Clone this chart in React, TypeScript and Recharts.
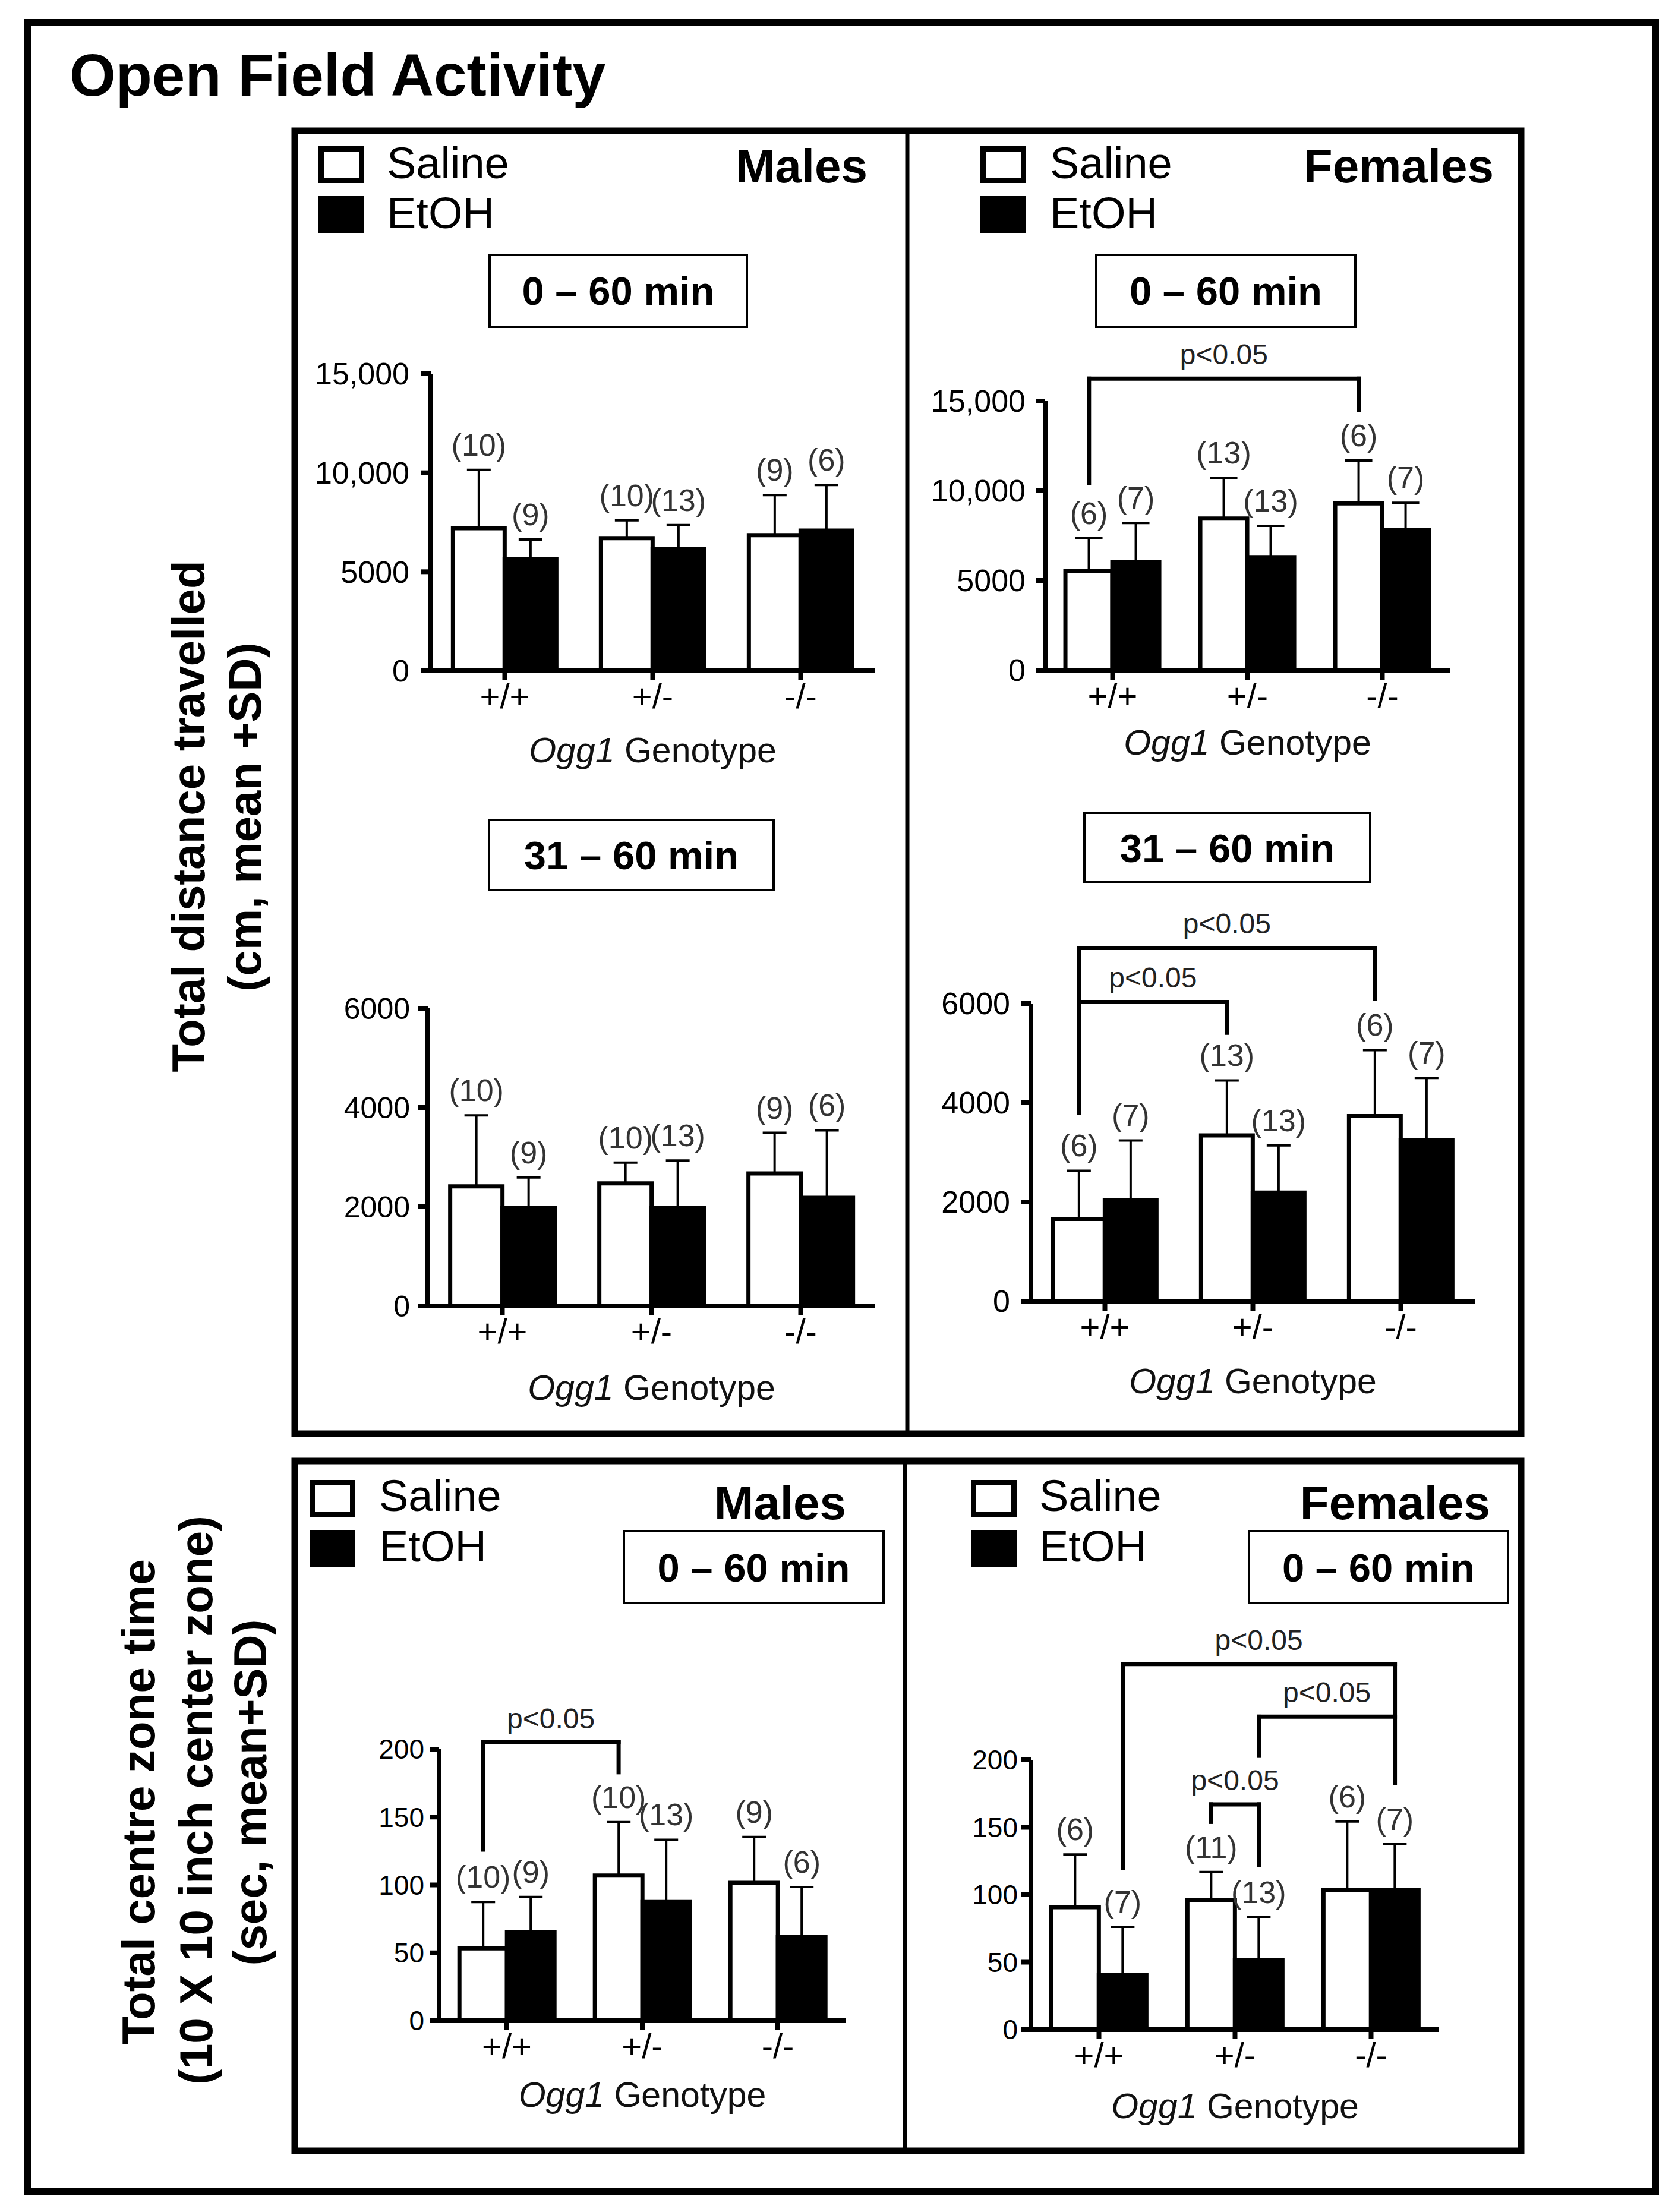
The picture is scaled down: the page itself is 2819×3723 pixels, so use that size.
import React from 'react'
import { BarChart, Bar, XAxis, YAxis, ErrorBar, ReferenceLine, LabelList } from 'recharts'

const FONT = '"Liberation Sans", Arial, Helvetica, sans-serif'

const genotypes = ['+/+', '+/-', '-/-']

// Males, total distance 0-60 min (cm)
const mDist060Saline = [7200, 6700, 6850]
const mDist060SalineSD = [2950, 900, 2020]
const mDist060Etoh = [5640, 6150, 7080]
const mDist060EtohSD = [990, 1210, 2300]

// Females, total distance 0-60 min (cm)
const fDist060Saline = [5550, 8450, 9300]
const fDist060SalineSD = [1810, 2270, 2390]
const fDist060Etoh = [6020, 6300, 7810]
const fDist060EtohSD = [2180, 1750, 1520]

// Males, total distance 31-60 min (cm)
const mDist3160Saline = [2410, 2470, 2670]
const mDist3160SalineSD = [1430, 420, 820]
const mDist3160Etoh = [1980, 1980, 2180]
const mDist3160EtohSD = [610, 950, 1360]

// Females, total distance 31-60 min (cm)
const fDist3160Saline = [1660, 3340, 3730]
const fDist3160SalineSD = [970, 1110, 1330]
const fDist3160Etoh = [2040, 2190, 3240]
const fDist3160EtohSD = [1200, 950, 1260]

// Males, centre zone time 0-60 min (sec)
const mCentreSaline = [53.3, 106.9, 101.5]
const mCentreSalineSD = [34.1, 39.4, 33.8]
const mCentreEtoh = [65.3, 87.4, 61.7]
const mCentreEtohSD = [25.8, 45.9, 36.8]

// Females, centre zone time 0-60 min (sec)
const fCentreSaline = [90.7, 96.0, 103.3]
const fCentreSalineSD = [39.2, 20.8, 51.0]
const fCentreEtoh = [40.4, 51.5, 103.3]
const fCentreEtohSD = [35.8, 31.9, 34.1]

// group sizes
const maleNSaline = [10, 10, 9]
const maleNEtoh = [9, 13, 6]
const femaleNSaline = [6, 13, 6]
const femaleNEtoh = [7, 13, 7]
const femaleCentreNSaline = [6, 11, 6]

const distTicks = [0, 5000, 10000, 15000]
const dist3160Ticks = [0, 2000, 4000, 6000]
const centreTicks = [0, 50, 100, 150, 200]

type Series = 'saline' | 'etoh'
type Bracket = { from: [number, Series]; to: [number, Series]; top: number; fromBottom: number | null; toBottom: number | null }

// significance brackets (y in data units)
const fDist060Brackets: Bracket[] = [
    { from: [0, 'saline'], to: [2, 'saline'], top: 16250, fromBottom: 10440, toBottom: 14500 },
]
const fDist3160Brackets: Bracket[] = [
    { from: [0, 'saline'], to: [2, 'saline'], top: 7120, fromBottom: 3800, toBottom: 6100 },
    { from: [0, 'saline'], to: [1, 'saline'], top: 6030, fromBottom: null, toBottom: 5410 },
]
const mCentreBrackets: Bracket[] = [
    { from: [0, 'saline'], to: [1, 'saline'], top: 205, fromBottom: 126, toBottom: 183 },
]
const fCentreBrackets: Bracket[] = [
    { from: [0, 'etoh'], to: [2, 'etoh'], top: 271, fromBottom: 120, toBottom: 183 },
    { from: [1, 'etoh'], to: [2, 'etoh'], top: 232, fromBottom: 203, toBottom: null },
    { from: [1, 'saline'], to: [1, 'etoh'], top: 167, fromBottom: 154, toBottom: 122 },
]

const GAP = 0.15

const fmt = (v: number) => (v >= 10000 ? v.toLocaleString('en-US') : String(v))

type PanelCfg = {
    left: number; top: number; bottom: number; bw: number
    max: number; ticks: number[]
    saline: number[]; salineSD: number[]; etoh: number[]; etohSD: number[]
    nSaline: number[]; nEtoh: number[]
    brackets: Bracket[]
    cap: number; labelDy: number; tickMargin: number; tickFont: number
}

const panels: PanelCfg[] = [
    { left: 725, top: 629, bottom: 1129, bw: 249, max: 15000, ticks: distTicks, saline: mDist060Saline, salineSD: mDist060SalineSD, etoh: mDist060Etoh, etohSD: mDist060EtohSD, nSaline: maleNSaline, nEtoh: maleNEtoh, brackets: [], cap: 20, labelDy: 154, tickMargin: 20, tickFont: 52 },
    { left: 1759, top: 675, bottom: 1128, bw: 227, max: 15000, ticks: distTicks, saline: fDist060Saline, salineSD: fDist060SalineSD, etoh: fDist060Etoh, etohSD: fDist060EtohSD, nSaline: femaleNSaline, nEtoh: femaleNEtoh, brackets: fDist060Brackets, cap: 23, labelDy: 142, tickMargin: 17, tickFont: 52 },
    { left: 720, top: 1697, bottom: 2198, bw: 251, max: 6000, ticks: dist3160Ticks, saline: mDist3160Saline, salineSD: mDist3160SalineSD, etoh: mDist3160Etoh, etohSD: mDist3160EtohSD, nSaline: maleNSaline, nEtoh: maleNEtoh, brackets: [], cap: 20, labelDy: 158, tickMargin: 14, tickFont: 50 },
    { left: 1735, top: 1689, bottom: 2190, bw: 249, max: 6000, ticks: dist3160Ticks, saline: fDist3160Saline, salineSD: fDist3160SalineSD, etoh: fDist3160Etoh, etohSD: fDist3160EtohSD, nSaline: femaleNSaline, nEtoh: femaleNEtoh, brackets: fDist3160Brackets, cap: 20, labelDy: 155, tickMargin: 19, tickFont: 52 },
    { left: 739, top: 2944, bottom: 3401, bw: 228, max: 200, ticks: centreTicks, saline: mCentreSaline, salineSD: mCentreSalineSD, etoh: mCentreEtoh, etohSD: mCentreEtohSD, nSaline: maleNSaline, nEtoh: maleNEtoh, brackets: mCentreBrackets, cap: 20, labelDy: 145, tickMargin: 9, tickFont: 46 },
    { left: 1735, top: 2962, bottom: 3416, bw: 229, max: 200, ticks: centreTicks, saline: fCentreSaline, salineSD: fCentreSalineSD, etoh: fCentreEtoh, etohSD: fCentreEtohSD, nSaline: femaleCentreNSaline, nEtoh: femaleNEtoh, brackets: fCentreBrackets, cap: 20, labelDy: 149, tickMargin: 6, tickFont: 46 },
]

const GenotypeLabel = (props: any) => {
    const { viewBox, dy } = props
    if (!viewBox) return null
    return (
        <text x={viewBox.x + viewBox.width / 2} y={viewBox.y + dy} textAnchor="middle" fontSize={59} fill="#111" fontFamily={FONT}>
            <tspan fontStyle="italic">Ogg1</tspan> Genotype
        </text>
    )
}

// "(n)" label placed above the SD whisker, using the bar's own pixel scale
const nLabel = (means: number[], sds: number[]) => (props: any) => {
    const vb = props.viewBox ?? props
    const { x, y, width, height } = vb
    const i = props.index
    if (x == null || i == null) return null
    const topY = y - (sds[i] * height) / means[i]
    return (
        <text x={x + width / 2} y={topY - 24} textAnchor="middle" fontSize={52} fill="#333" fontFamily={FONT}>
            {`(${props.value})`}
        </text>
    )
}

// bracket segment drawn from category centres, shifted to the bar centres
const segShape = (dxA: number, dxB: number, label?: string) => (props: any) => {
    const { x1, y1, x2, y2 } = props
    if (x1 == null) return <g />
    const ax = x1 + dxA
    const bx = x2 + dxB
    return (
        <g>
            <line x1={ax} y1={y1} x2={bx} y2={y2} stroke="#000" strokeWidth={7} strokeLinecap="square" />
            {label ? (
                <text x={(ax + bx) / 2} y={Math.min(y1, y2) - 24} textAnchor="middle" fontSize={48} fill="#222" fontFamily={FONT}>
                    {label}
                </text>
            ) : null}
        </g>
    )
}

function Panel({ p }: { p: PanelCfg }) {
    const YW = 200, MT = 340, XH = 200, MR = 30
    const width = YW + 3 * p.bw + MR
    const height = MT + (p.bottom - p.top) + XH
    // pixel offset of a bar centre from its category centre
    const off = (s: Series) => (s === 'saline' ? -1 : 1) * (0.5 - GAP) * 0.5 * p.bw

    const data = genotypes.map((g, i) => ({
        g,
        saline: p.saline[i],
        salineErr: [0, p.salineSD[i]],
        nSaline: p.nSaline[i],
        etoh: p.etoh[i],
        etohErr: [0, p.etohSD[i]],
        nEtoh: p.nEtoh[i],
    }))

    const refs: React.ReactNode[] = []
    p.brackets.forEach((b, k) => {
        const ga = genotypes[b.from[0]]
        const gb = genotypes[b.to[0]]
        const da = off(b.from[1])
        const db = off(b.to[1])
        if (b.fromBottom !== null) {
            refs.push(<ReferenceLine key={`a-${k}`} ifOverflow="visible" segment={[{ x: ga, y: b.fromBottom }, { x: ga, y: b.top }]} shape={segShape(da, da)} />)
        }
        refs.push(<ReferenceLine key={`t-${k}`} ifOverflow="visible" segment={[{ x: ga, y: b.top }, { x: gb, y: b.top }]} shape={segShape(da, db, 'p<0.05')} />)
        if (b.toBottom !== null) {
            refs.push(<ReferenceLine key={`b-${k}`} ifOverflow="visible" segment={[{ x: gb, y: b.toBottom }, { x: gb, y: b.top }]} shape={segShape(db, db)} />)
        }
    })

    return (
        <div style={{ position: 'absolute', left: p.left - YW, top: p.top - MT }}>
            <BarChart
                width={width}
                height={height}
                data={data}
                margin={{ top: MT, right: MR, left: 0, bottom: 0 }}
                barCategoryGap="15%"
                barGap={0}
            >
                <XAxis
                    dataKey="g"
                    height={XH}
                    interval={0}
                    tickSize={16}
                    tickMargin={6}
                    axisLine={{ stroke: '#000', strokeWidth: 8 }}
                    tickLine={{ stroke: '#000', strokeWidth: 8 }}
                    tick={{ fontSize: 58, fill: '#000', fontFamily: FONT }}
                    label={<GenotypeLabel dy={p.labelDy} />}
                />
                <YAxis
                    width={YW}
                    domain={[0, p.max]}
                    ticks={p.ticks}
                    allowDataOverflow
                    interval={0}
                    tickSize={16}
                    tickMargin={p.tickMargin}
                    tickFormatter={fmt}
                    axisLine={{ stroke: '#000', strokeWidth: 8 }}
                    tickLine={{ stroke: '#000', strokeWidth: 8 }}
                    tick={{ fontSize: p.tickFont, fill: '#000', fontFamily: FONT }}
                />
                <Bar dataKey="saline" fill="#fff" stroke="#000" strokeWidth={7} isAnimationActive={false}>
                    <ErrorBar dataKey="salineErr" direction="y" width={p.cap} stroke="#000" strokeWidth={4} />
                    <LabelList dataKey="nSaline" content={nLabel(p.saline, p.salineSD)} />
                </Bar>
                <Bar dataKey="etoh" fill="#000" stroke="#000" strokeWidth={7} isAnimationActive={false}>
                    <ErrorBar dataKey="etohErr" direction="y" width={p.cap} stroke="#000" strokeWidth={4} />
                    <LabelList dataKey="nEtoh" content={nLabel(p.etoh, p.etohSD)} />
                </Bar>
                {refs}
            </BarChart>
        </div>
    )
}

// panel headers: legend squares, sex label
const headers = [
    { sq: 536, y1: 246, y2: 330, tx: 651, b1: 300, b2: 384, sex: 'Males', sexEnd: 1460, sexBase: 307 },
    { sq: 1650, y1: 246, y2: 330, tx: 1767, b1: 300, b2: 384, sex: 'Females', sexEnd: 2514, sexBase: 307 },
    { sq: 521, y1: 2491, y2: 2575, tx: 638, b1: 2543, b2: 2628, sex: 'Males', sexEnd: 1424, sexBase: 2557 },
    { sq: 1634, y1: 2491, y2: 2575, tx: 1749, b1: 2543, b2: 2628, sex: 'Females', sexEnd: 2508, sexBase: 2557 },
]

const timeBoxes = [
    { x1: 822, y1: 427, x2: 1259, y2: 552, text: '0 – 60 min', base: 513 },
    { x1: 1843, y1: 427, x2: 2283, y2: 552, text: '0 – 60 min', base: 513 },
    { x1: 821, y1: 1378, x2: 1304, y2: 1500, text: '31 – 60 min', base: 1463 },
    { x1: 1823, y1: 1366, x2: 2308, y2: 1487, text: '31 – 60 min', base: 1451 },
    { x1: 1048, y1: 2575, x2: 1489, y2: 2700, text: '0 – 60 min', base: 2662 },
    { x1: 2100, y1: 2575, x2: 2540, y2: 2700, text: '0 – 60 min', base: 2662 },
]

const yTitles = [
    { x: 344, y: 1374, text: 'Total distance travelled' },
    { x: 439, y: 1375, text: '(cm, mean +SD)' },
    { x: 260, y: 3033, text: 'Total centre zone time' },
    { x: 357, y: 3030, text: '(10 X 10 inch center zone)' },
    { x: 448, y: 3017, text: '(sec, mean+SD)' },
]

function Frame() {
    return (
        <svg width={2819} height={3723} style={{ position: 'absolute', left: 0, top: 0 }} fontFamily={FONT}>
            <rect x={47} y={38} width={2739} height={3651} fill="none" stroke="#000" strokeWidth={12} />
            <text x={117} y={161} fontSize={100} fontWeight="bold">Open Field Activity</text>

            <rect x={496} y={220} width={2064} height={2193} fill="none" stroke="#000" strokeWidth={11} />
            <line x1={1527} y1={220} x2={1527} y2={2413} stroke="#000" strokeWidth={7} />
            <rect x={496} y={2459} width={2064} height={1161} fill="none" stroke="#000" strokeWidth={11} />
            <line x1={1523} y1={2459} x2={1523} y2={3620} stroke="#000" strokeWidth={7} />

            {headers.map((h, i) => (
                <g key={i}>
                    <rect x={h.sq + 4.5} y={h.y1 + 4.5} width={68} height={53} fill="#fff" stroke="#000" strokeWidth={9} />
                    <rect x={h.sq} y={h.y2} width={77} height={62} fill="#000" />
                    <text x={h.tx} y={h.b1} fontSize={74}>Saline</text>
                    <text x={h.tx} y={h.b2} fontSize={74}>EtOH</text>
                    <text x={h.sexEnd} y={h.sexBase} fontSize={80} fontWeight="bold" textAnchor="end">{h.sex}</text>
                </g>
            ))}

            {timeBoxes.map((b, i) => (
                <g key={i}>
                    <rect x={b.x1 + 2} y={b.y1 + 2} width={b.x2 - b.x1 - 4} height={b.y2 - b.y1 - 4} fill="#fff" stroke="#000" strokeWidth={4} />
                    <text x={(b.x1 + b.x2) / 2} y={b.base} fontSize={67} fontWeight="bold" textAnchor="middle">{b.text}</text>
                </g>
            ))}

            {yTitles.map((t, i) => (
                <text key={i} transform={`translate(${t.x},${t.y}) rotate(-90)`} textAnchor="middle" fontSize={78} fontWeight="bold">
                    {t.text}
                </text>
            ))}
        </svg>
    )
}

export default function App() {
    return (
        <div style={{ position: 'relative', width: 2819, height: 3723, background: '#fff', overflow: 'hidden' }}>
            <style>{'body{margin:0;}'}</style>
            <Frame />
            {panels.map((p, i) => (
                <Panel key={i} p={p} />
            ))}
        </div>
    )
}
